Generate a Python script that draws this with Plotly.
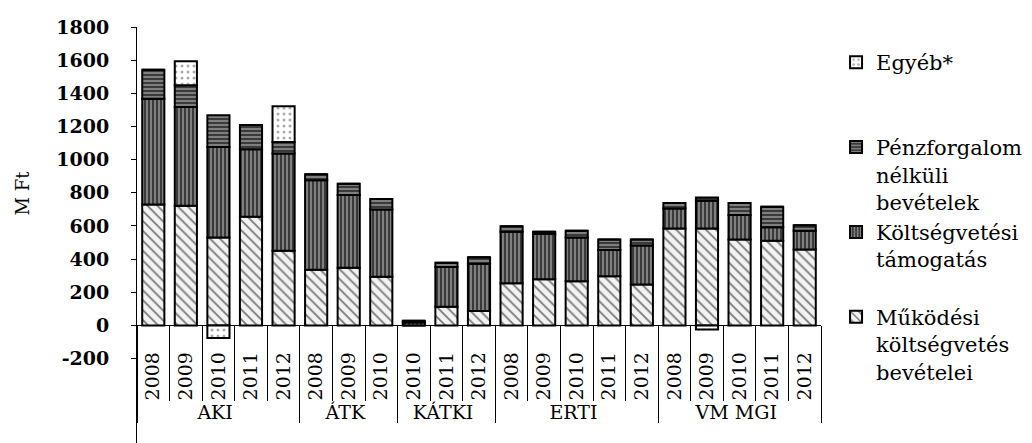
import plotly.graph_objects as go

groups = ["AKI"]*5 + ["ÁTK"]*3 + ["KÁTKI"]*3 + ["ERTI"]*5 + ["VM MGI"]*5
years = ["2008","2009","2010","2011","2012",
         "2008","2009","2010",
         "2010","2011","2012",
         "2008","2009","2010","2011","2012",
         "2008","2009","2010","2011","2012"]

mukodesi = [730, 722, 531, 655, 451, 336, 348, 294, 0, 113, 87, 254, 278, 267, 297, 247, 585, 585, 519, 511, 458]
koltsegvetesi = [637, 596, 546, 408, 586, 540, 438, 406, 18, 239, 285, 311, 273, 264, 158, 235, 121, 167, 147, 81, 113]
penzforgalom = [175, 131, 191, 146, 70, 36, 68, 63, 10, 26, 39, 34, 14, 40, 64, 37, 33, 20, 73, 124, 34]
egyeb = [0, 144, -75, 0, 215, 0, 0, 0, 0, 0, 0, 0, 0, 0, 0, 0, 0, -25, 0, 0, 0]

yticks = [-200, 0, 200, 400, 600, 800, 1000, 1200, 1400, 1600, 1800]
yticktext = ["-200", "0", "200", "400", "600", "800", "1000", "1200", "1400", "1600", "1800"]

names = ["Működési<br>költségvetés<br>bevételei",
         "Költségvetési<br>támogatás<br> ",
         "Pénzforgalom<br>nélküli<br>bevételek",
         "Egyéb*<br> <br> "]
ranks = [4, 3, 2, 1]
series = [mukodesi, koltsegvetesi, penzforgalom, egyeb]
patterns = [
    dict(shape="\\", fgcolor="black", bgcolor="#f2f2f2", size=7, solidity=0.25),
    dict(shape="|", fgcolor="white", bgcolor="#3a3a3a", size=4, solidity=0.35),
    dict(shape="-", fgcolor="white", bgcolor="#3a3a3a", size=4, solidity=0.35),
    dict(shape=".", fgcolor="#555", bgcolor="white", size=6, solidity=0.2),
]

serif = "DejaVu Serif"
fig = go.Figure()
for i, (nm, vals, pat, rk) in enumerate(zip(names, series, patterns, ranks)):
    fig.add_trace(go.Bar(
        x=[groups, years], y=vals, name=nm, legendrank=rk,
        marker=dict(color=pat["bgcolor"], line=dict(color="black", width=2), pattern=pat),
    ))

ymin, ymax = -709, 1800
zero_pos = (0 - ymin) / (ymax - ymin)

fig.update_layout(
    width=1032, height=443,
    margin=dict(l=137, r=211, t=27, b=0, autoexpand=False),
    paper_bgcolor="white", plot_bgcolor="white",
    barmode="relative", bargap=0.32,
    font=dict(family=serif, color="black"),
    legend=dict(x=1.022, xanchor="left", y=0.964, yanchor="top", valign="top",
                traceorder="normal", tracegroupgap=0,
                font=dict(family=serif, size=21, color="black"),
                itemwidth=30),
    xaxis=dict(anchor="free", position=zero_pos, showline=True, linecolor="black", linewidth=1,
               ticks="outside", ticklen=75, tickcolor="black", tickangle=-90,
               ticklabelstandoff=18,
               tickfont=dict(family=serif, size=19, color="black"),
               showdividers=True, dividercolor="black", dividerwidth=1,
               showgrid=False, zeroline=False, automargin=False),
    yaxis=dict(range=[ymin, ymax], tickvals=yticks, ticktext=yticktext,
               showline=True, linecolor="black", linewidth=1,
               ticks="outside", ticklen=5, tickcolor="black", ticklabelstandoff=18,
               tickfont=dict(family=serif, size=19, color="black", weight="bold"),
               showgrid=False, zeroline=False, automargin=False),
    annotations=[dict(text="M Ft", xref="paper", yref="paper", x=-0.168, y=0.6,
                      xanchor="center", yanchor="middle",
                      textangle=-90, showarrow=False,
                      font=dict(family=serif, size=18, color="black"))],
)

fig.write_html("out.html", config={"displayModeBar": False},
               post_script="document.body.style.margin='0';")
